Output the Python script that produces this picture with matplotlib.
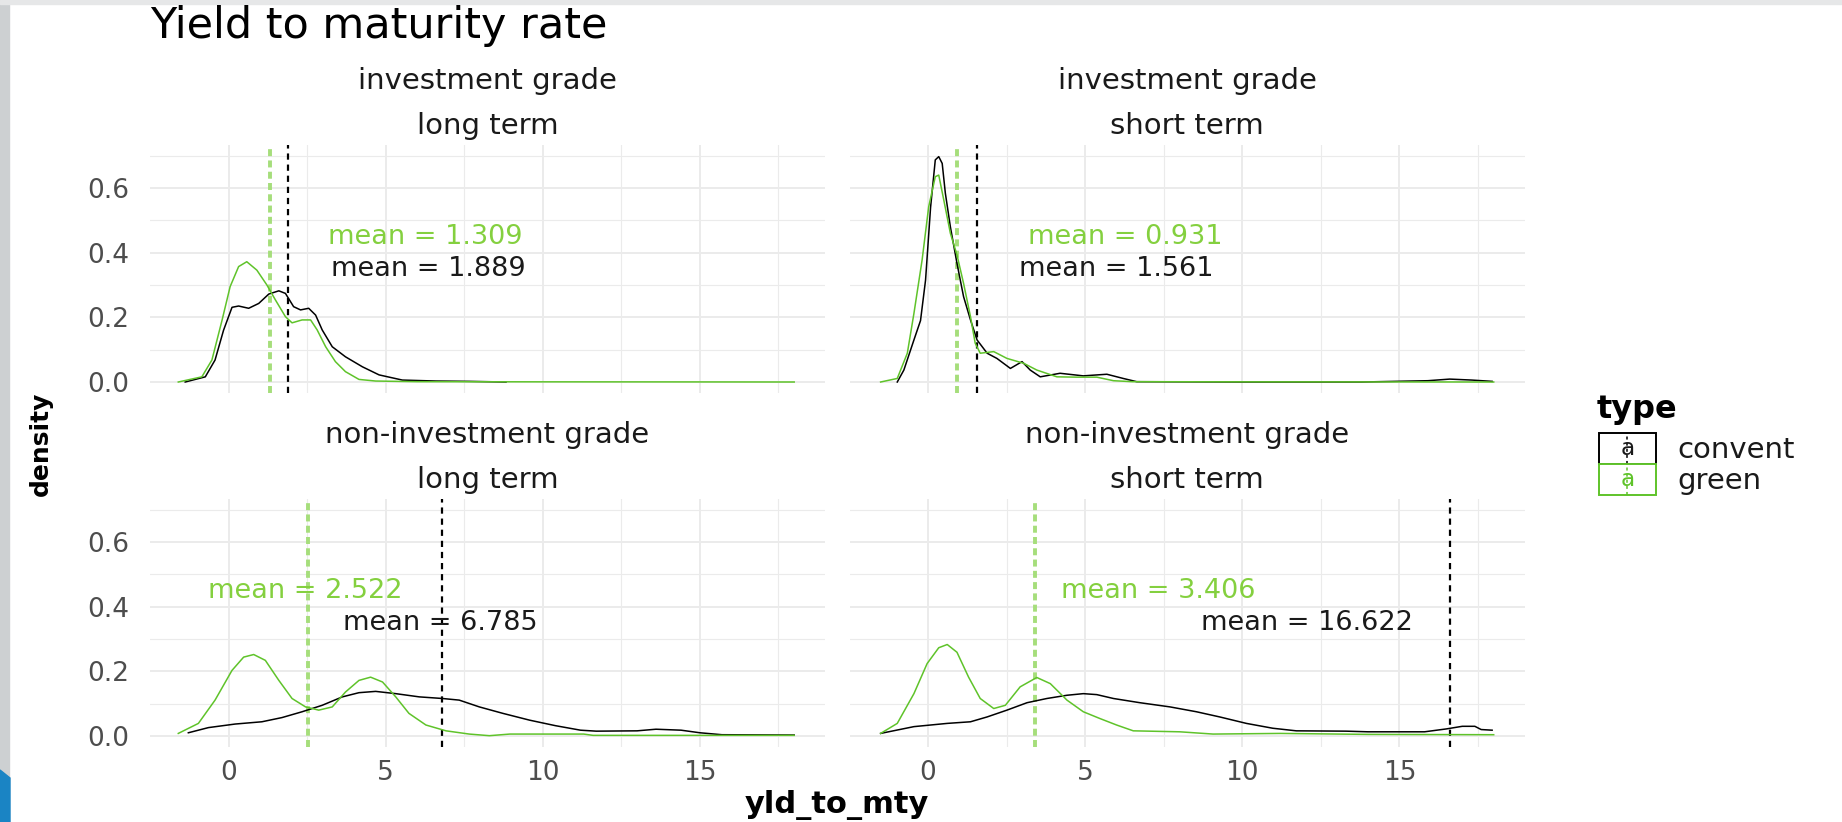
import matplotlib
matplotlib.use('Agg')
import matplotlib.pyplot as plt
from matplotlib.lines import Line2D
from matplotlib.patches import Rectangle, Polygon
from matplotlib.text import Text
from matplotlib.legend_handler import HandlerBase

# --- values ---
grades = ['investment grade', 'investment grade', 'non-investment grade', 'non-investment grade']
terms = ['long term', 'short term', 'long term', 'short term']

# investment grade, long term
il_conv_x = [-1.38, -0.74, -0.43, -0.16, 0.11, 0.32, 0.64, 0.96, 1.28, 1.6, 1.81, 2.07, 2.29, 2.55,
             2.77, 2.98, 3.3, 3.72, 4.26, 4.79, 5.53, 6.6, 7.66, 8.83]
il_conv_y = [0.0, 0.016, 0.068, 0.16, 0.231, 0.235, 0.228, 0.243, 0.272, 0.282, 0.274, 0.233, 0.223, 0.228,
             0.207, 0.161, 0.109, 0.078, 0.047, 0.022, 0.006, 0.003, 0.002, 0.0]
il_green_x = [-1.6, -0.85, -0.53, -0.21, 0.05, 0.32, 0.58, 0.9, 1.22, 1.49, 1.81, 2.02, 2.34, 2.61,
              2.82, 3.09, 3.4, 3.72, 4.15, 4.68, 6.0, 10.0, 14.0, 18.0]
il_green_y = [0.0, 0.016, 0.068, 0.19, 0.295, 0.357, 0.372, 0.346, 0.30, 0.254, 0.202, 0.183, 0.192, 0.192,
              0.161, 0.109, 0.063, 0.032, 0.008, 0.003, 0.001, 0.0005, 0.0003, 0.0]

# investment grade, short term
is_conv_x = [-0.98, -0.77, -0.45, -0.24, -0.08, 0.08, 0.23, 0.34, 0.45, 0.55, 0.71, 0.92, 1.13, 1.35,
             1.56, 1.88, 2.19, 2.62, 2.99, 3.25, 3.57, 4.2, 4.94, 5.69, 6.21, 6.64, 10.0, 13.8, 15.9,
             16.6, 17.3, 17.95]
is_conv_y = [0.0, 0.037, 0.13, 0.19, 0.315, 0.54, 0.687, 0.697, 0.676, 0.584, 0.48, 0.367, 0.264, 0.192,
             0.13, 0.089, 0.073, 0.042, 0.063, 0.037, 0.016, 0.027, 0.019, 0.024, 0.011, 0.001, 0.0, 0.0,
             0.004, 0.009, 0.006, 0.002]
is_green_x = [-1.51, -0.98, -0.66, -0.45, -0.19, 0.02, 0.23, 0.34, 0.5, 0.71, 0.92, 1.13, 1.35, 1.5,
              1.66, 2.09, 2.51, 3.04, 3.46, 4.1, 4.73, 5.37, 5.9, 6.5, 10.0, 14.0, 18.0]
is_green_y = [0.0, 0.011, 0.089, 0.212, 0.377, 0.542, 0.635, 0.64, 0.563, 0.46, 0.393, 0.305, 0.202, 0.12,
              0.089, 0.094, 0.073, 0.058, 0.037, 0.016, 0.015, 0.015, 0.004, 0.001, 0.0005, 0.0003, 0.0]

# non-investment grade, long term
nl_conv_x = [-1.28, -0.64, 0.21, 1.06, 1.7, 2.34, 2.98, 3.62, 4.15, 4.68, 5.32, 6.07, 6.81, 7.34,
             7.98, 8.73, 9.58, 10.4, 11.2, 11.7, 13.0, 13.6, 14.4, 15.0, 15.7, 18.0]
nl_conv_y = [0.01, 0.026, 0.037, 0.044, 0.057, 0.075, 0.095, 0.121, 0.134, 0.138, 0.131, 0.121, 0.116, 0.111,
             0.09, 0.07, 0.049, 0.032, 0.018, 0.015, 0.016, 0.021, 0.018, 0.01, 0.004, 0.003]
nl_green_x = [-1.6, -0.96, -0.43, 0.11, 0.48, 0.8, 1.17, 1.6, 2.02, 2.45, 2.87, 3.3, 3.72, 4.15,
              4.52, 4.9, 5.32, 5.74, 6.28, 6.92, 7.66, 8.3, 8.95, 11.3, 11.6, 15.0, 18.0]
nl_green_y = [0.008, 0.039, 0.111, 0.203, 0.244, 0.252, 0.234, 0.172, 0.116, 0.09, 0.08, 0.09, 0.136, 0.172,
              0.182, 0.167, 0.121, 0.07, 0.034, 0.016, 0.006, 0.001, 0.006, 0.006, 0.002, 0.002, 0.002]

# non-investment grade, short term
ns_conv_x = [-1.51, -0.45, 0.61, 1.35, 1.88, 2.51, 3.15, 3.78, 4.42, 4.94, 5.37, 5.9, 6.74, 7.7,
             8.54, 9.28, 10.13, 10.97, 11.72, 13.3, 14.0, 15.8, 16.5, 17.0, 17.4, 17.6, 17.95]
ns_conv_y = [0.008, 0.029, 0.039, 0.044, 0.059, 0.08, 0.103, 0.116, 0.126, 0.131, 0.128, 0.116, 0.103, 0.09,
             0.075, 0.059, 0.039, 0.024, 0.016, 0.015, 0.013, 0.013, 0.022, 0.03, 0.03, 0.02, 0.018]
ns_green_x = [-1.51, -0.98, -0.45, -0.03, 0.34, 0.61, 0.92, 1.29, 1.66, 2.09, 2.46, 2.93, 3.46, 3.89,
              4.42, 4.94, 5.47, 6.0, 6.53, 8.01, 9.07, 11.2, 14.0, 18.0]
ns_green_y = [0.008, 0.039, 0.131, 0.224, 0.273, 0.283, 0.259, 0.182, 0.116, 0.085, 0.095, 0.152, 0.181, 0.162,
              0.111, 0.075, 0.054, 0.034, 0.016, 0.013, 0.006, 0.008, 0.005, 0.004]

conv_means = [1.889, 1.561, 6.785, 16.622]
green_means = [1.309, 0.931, 2.522, 3.406]
# where the "mean = ..." labels sit (centre x, data units)
conv_label_x = [6.37, 6.0, 6.75, 12.05]
green_label_x = [6.27, 6.27, 2.43, 7.34]
conv_label_y = 0.35
green_label_y = 0.45

x_ticks = [0, 5, 10, 15]
x_minor = [2.5, 7.5, 12.5, 17.5]
y_ticks = [0.0, 0.2, 0.4, 0.6]
y_minor = [0.1, 0.3, 0.5, 0.7]
legend_labels = ['convent', 'green']

# --- styling ---
CONV_COL = '#000000'
GREEN_COL = '#5FC32A'
GREEN_TXT = '#84D03F'
GREEN_VLINE = '#A6DE7B'
GRID = '#EBEBEB'
plt.rcParams['font.family'] = ['DejaVu Sans']

fig = plt.figure(figsize=(18.42, 8.22), dpi=100)
W, H = 1842, 822

# slide frame decorations around the screenshot
fig.add_artist(Rectangle((0, 0), 9 / W, 1, transform=fig.transFigure, color='#CDD0D2', zorder=0))
fig.add_artist(Rectangle((0, 1 - 4 / H), 1, 4 / H, transform=fig.transFigure, color='#E6E7E8', zorder=0))
fig.add_artist(Polygon([(0, 0), (10 / W, 0), (10 / W, 1 - 778 / H), (0, 1 - 770 / H)],
                       closed=True, transform=fig.transFigure, color='#1A84C4', zorder=1))

lefts = [150 / W, 849.5 / W]
bottoms = [1 - 393 / H, 1 - 747 / H]
pw, ph = 675 / W, 248 / H

curves = [
    (il_conv_x, il_conv_y, il_green_x, il_green_y),
    (is_conv_x, is_conv_y, is_green_x, is_green_y),
    (nl_conv_x, nl_conv_y, nl_green_x, nl_green_y),
    (ns_conv_x, ns_conv_y, ns_green_x, ns_green_y),
]

for i in range(4):
    row, col = divmod(i, 2)
    ax = fig.add_axes([lefts[col], bottoms[row], pw, ph])
    cx, cy, gx, gy = curves[i]

    ax.set_xlim(-2.5, 18.98)
    ax.set_ylim(-0.034, 0.733)
    ax.set_xticks(x_ticks)
    ax.set_xticks(x_minor, minor=True)
    ax.set_yticks(y_ticks)
    ax.set_yticks(y_minor, minor=True)
    ax.grid(True, which='major', color=GRID, lw=1.4, zorder=0)
    ax.grid(True, which='minor', color=GRID, lw=0.8, zorder=0)
    for s in ax.spines.values():
        s.set_visible(False)
    ax.tick_params(which='both', length=0, labelsize=19, labelcolor='#4D4D4D')
    ax.tick_params(axis='y', pad=15)
    ax.tick_params(axis='x', pad=9)
    if col == 0:
        ax.set_yticklabels(['%.1f' % v for v in y_ticks])
    else:
        ax.set_yticklabels([])
    if row == 1:
        ax.set_xticklabels([str(v) for v in x_ticks])
    else:
        ax.set_xticklabels([])

    ax.plot(cx, cy, color=CONV_COL, lw=1.1, zorder=3)
    ax.plot(gx, gy, color=GREEN_COL, lw=1.1, zorder=4)
    ax.axvline(green_means[i], color=GREEN_VLINE, lw=2.8, ls=(0, (1.8, 1.1)), zorder=2)
    ax.axvline(conv_means[i], color=CONV_COL, lw=1.6, ls=(0, (2.8, 2.2)), zorder=2)

    ax.text(green_label_x[i], green_label_y, 'mean = %.3f' % green_means[i], color=GREEN_TXT,
            fontsize=19.5, ha='center', va='center', zorder=5)
    ax.text(conv_label_x[i], conv_label_y, 'mean = %.3f' % conv_means[i], color='#1A1A1A',
            fontsize=19.5, ha='center', va='center', zorder=5)

    # facet strip (two lines)
    ax.text(0.5, 1.258, grades[i], transform=ax.transAxes, ha='center', va='center',
            fontsize=21, color='#1A1A1A')
    ax.text(0.5, 1.077, terms[i], transform=ax.transAxes, ha='center', va='center',
            fontsize=21, color='#1A1A1A')

fig.text(150 / W, 1 - 26 / H, 'Yield to maturity rate', fontsize=31, ha='left', va='center', color='black')
fig.text(837 / W, 1 - 805 / H, 'yld_to_mty', fontsize=22, fontweight='bold', ha='center', va='center')
fig.text(41 / W, 1 - 444 / H, 'density', fontsize=18, fontweight='bold', rotation=90,
         ha='center', va='center')


class TypeKey(HandlerBase):
    # ggplot-style key: outlined box, dashed vline and an "a" for the text layer
    def create_artists(self, legend, orig_handle, xdescent, ydescent, width, height, fontsize, trans):
        c = orig_handle.get_color()
        x0, y0 = -xdescent, -ydescent
        box = Rectangle((x0, y0), width, height, facecolor='white', edgecolor=c, lw=1.4, transform=trans)
        vl = Line2D([x0 + width / 2] * 2, [y0, y0 + height], color=c, lw=1.1,
                    ls=(0, (2, 2)), transform=trans)
        txt = Text(x0 + width / 2, y0 + height / 2, 'a', color=c if c != '#000000' else '#1A1A1A',
                   ha='center', va='center', fontsize=fontsize * 0.8, transform=trans)
        return [box, vl, txt]


# legend title written separately so the gap under it can match the reference
fig.text(1597 / W, 1 - 409 / H, 'type', fontsize=23, fontweight='bold', ha='left', va='center')
handles = [Line2D([], [], color=CONV_COL), Line2D([], [], color=GREEN_COL)]
leg = fig.legend(handles, legend_labels, handler_map={Line2D: TypeKey()}, loc='upper left',
                 bbox_to_anchor=(1599 / W, 1 - 433 / H), frameon=False, fontsize=21,
                 handlelength=1.95, handleheight=1.25, labelspacing=0.0, handletextpad=0.75,
                 borderpad=0, borderaxespad=0)
for t in leg.get_texts():
    t.set_color('#1A1A1A')

fig.savefig('out.png', dpi=100, facecolor='white')
